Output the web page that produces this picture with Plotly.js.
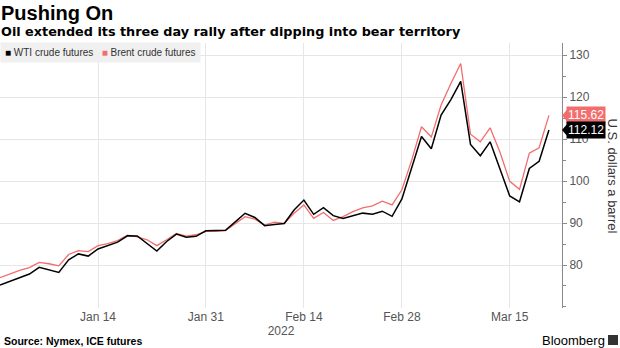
<!DOCTYPE html>
<html>
<head>
<meta charset="utf-8">
<script src="https://cdn.plot.ly/plotly-3.0.1.min.js"></script>
<style>html,body{margin:0;padding:0;background:#fff;}#chart{width:620px;height:348px;}</style>
</head>
<body>
<div id="chart"></div>
<script>
const dates = [
  '2021-12-31',
  '2022-01-03','2022-01-04','2022-01-05','2022-01-06','2022-01-07',
  '2022-01-10','2022-01-11','2022-01-12','2022-01-13','2022-01-14',
  '2022-01-17','2022-01-18','2022-01-19','2022-01-20','2022-01-21',
  '2022-01-24','2022-01-25','2022-01-26','2022-01-27','2022-01-28',
  '2022-01-31',
  '2022-02-01','2022-02-02','2022-02-03','2022-02-04',
  '2022-02-07','2022-02-08','2022-02-09','2022-02-10','2022-02-11',
  '2022-02-14','2022-02-15','2022-02-16','2022-02-17','2022-02-18',
  '2022-02-21','2022-02-22','2022-02-23','2022-02-24','2022-02-25',
  '2022-02-28',
  '2022-03-01','2022-03-02','2022-03-03','2022-03-04',
  '2022-03-07','2022-03-08','2022-03-09','2022-03-10','2022-03-11',
  '2022-03-14','2022-03-15','2022-03-16','2022-03-17','2022-03-18',
  '2022-03-21'
];
const wtiName = 'WTI crude futures';
const wti = [
  75.21,
  76.08, 76.99, 77.85, 79.46, 78.90,
  78.23, 81.22, 82.64, 82.12, 83.82,
  null, 85.43, 86.96, 86.90, 85.14,
  83.31, 85.60, 87.35, 86.61, 86.82,
  88.15,
  88.20, 88.26, 90.27, 92.31,
  91.32, 89.36, 89.66, 89.88, 93.10,
  95.46, 92.07, 93.66, 91.76, 91.07,
  null, 92.35, 92.10, 92.81, 91.59,
  95.72,
  103.41, 110.60, 107.67, 115.68,
  119.40, 123.70, 108.70, 106.02, 109.33,
  103.01, 96.44, 95.04, 102.98, 104.70,
  112.12
];
const brentName = 'Brent crude futures';
const brent = [
  77.0,
  77.9, 78.7, 79.4, 80.6, 80.3,
  79.8, 82.5, 83.4, 83.2, 84.6,
  85.1, 85.8, 87.1, 86.7, 86.0,
  84.6, 86.0, 87.5, 86.9, 87.2,
  88.0,
  88.0, 88.2, 89.9, 91.5,
  90.9, 89.5, 90.2, 89.9, 92.3,
  94.3, 91.1, 92.5, 90.6, 91.5,
  92.7, 93.6, 94.1, 95.2, 94.3,
  97.9,
  104.97, 112.93, 110.46, 118.11,
  123.21, 127.98, 111.14, 109.33, 112.67,
  106.90, 99.91, 98.02, 106.64, 107.93,
  115.62
];
const xTickVals = ['2022-01-14','2022-01-31','2022-02-14','2022-02-28','2022-03-15'];
const xTickText = ['Jan 14','Jan 31','Feb 14','Feb 28','Mar 15'];
const yTickVals = [80, 90, 100, 110, 120, 130];

const wtiColor = '#000000';
const brentColor = '#f26d6d';
const FONT = 'Liberation Sans, Arial, sans-serif';
const WIDE = 'DejaVu Sans, Verdana, sans-serif';

const traces = [
  {x: dates, y: brent, type: 'scatter', mode: 'lines', name: brentName,
   line: {color: brentColor, width: 1.3}, connectgaps: true, showlegend: false, hoverinfo: 'skip'},
  {x: dates, y: wti, type: 'scatter', mode: 'lines', name: wtiName,
   line: {color: wtiColor, width: 1.5}, connectgaps: true, showlegend: false, hoverinfo: 'skip'}
];

const lastBrent = brent[brent.length - 1];
const lastWti = wti[wti.length - 1];

function py(pix) { return (308 - pix) / 265; }

const annotations = [
  {text: '<b>Pushing On</b>', xref: 'paper', yref: 'paper', x: 0, y: py(13), xanchor: 'left', yanchor: 'middle',
   showarrow: false, font: {family: FONT, size: 20, color: '#000'}, xshift: -1},
  {text: '<b>Oil extended its three day rally after dipping into bear territory</b>', xref: 'paper', yref: 'paper',
   x: 0, y: py(31.5), xanchor: 'left', yanchor: 'middle', showarrow: false, font: {family: WIDE, size: 12.8, color: '#000'}, xshift: -1},
  {text: '<span style="color:' + wtiColor + '">■</span> ' + wtiName + '   <span style="color:' + brentColor + '">■</span> ' + brentName,
   xref: 'paper', yref: 'paper', x: 0, y: py(52.5), xanchor: 'left', yanchor: 'middle', showarrow: false,
   font: {family: FONT, size: 10, color: '#333'}, bgcolor: '#f0f0f0', borderpad: 4},
  {text: 'U.S. dollars a barrel', xref: 'paper', yref: 'paper', x: 1, y: 0.5, xanchor: 'center', yanchor: 'middle',
   xshift: 50, textangle: 90, showarrow: false, font: {family: FONT, size: 13, color: '#333'}},
  {text: lastBrent.toFixed(2), xref: 'paper', yref: 'y', x: 1, y: lastBrent, xanchor: 'left', yanchor: 'middle',
   xshift: 4, showarrow: false, bgcolor: brentColor, borderpad: 1, font: {family: FONT, size: 12, color: '#fff'}},
  {text: lastWti.toFixed(2), xref: 'paper', yref: 'y', x: 1, y: lastWti, xanchor: 'left', yanchor: 'middle',
   xshift: 4, showarrow: false, bgcolor: wtiColor, borderpad: 1, font: {family: FONT, size: 12, color: '#fff'}},
  {text: '<b>Source: Nymex, ICE futures</b>', xref: 'paper', yref: 'paper', x: 0, y: py(341), xanchor: 'left', yanchor: 'middle',
   xshift: 2, showarrow: false, font: {family: FONT, size: 10.5, color: '#000'}},
  {text: 'Bloomberg', xref: 'paper', yref: 'paper', x: 1, y: py(340), xanchor: 'right', yanchor: 'middle',
   xshift: 45, showarrow: false, font: {family: FONT, size: 13, color: '#000'}}
];

const shapes = [
  {type: 'path', xref: 'paper', yref: 'y', xsizemode: 'pixel', ysizemode: 'pixel', xanchor: 1, yanchor: lastBrent,
   path: 'M 0 0 L 6 7 L 6 -7 Z', fillcolor: brentColor, line: {width: 0}},
  {type: 'path', xref: 'paper', yref: 'y', xsizemode: 'pixel', ysizemode: 'pixel', xanchor: 1, yanchor: lastWti,
   path: 'M 0 0 L 6 7 L 6 -7 Z', fillcolor: wtiColor, line: {width: 0}},
  {type: 'rect', xref: 'paper', yref: 'paper', xsizemode: 'pixel', ysizemode: 'pixel', xanchor: 1, yanchor: py(340),
   x0: 46, x1: 56, y0: -5, y1: 5, fillcolor: '#333', line: {width: 0}}
];

const layout = {
  width: 620, height: 348,
  margin: {l: 0, r: 58, t: 43, b: 40},
  paper_bgcolor: '#fff', plot_bgcolor: '#fff',
  showlegend: false,
  font: {family: FONT, size: 12, color: '#555'},
  xaxis: {
    type: 'date',
    range: ['2021-12-31', '2022-03-22 08:00'],
    rangebreaks: [{bounds: ['sat', 'mon']}],
    tickvals: xTickVals, ticktext: xTickText,
    showgrid: true, gridcolor: '#e6e6e6', gridwidth: 1,
    showline: false, zeroline: false, ticks: '',
    tickfont: {family: FONT, size: 12, color: '#555'},
    title: {text: '2022', font: {family: FONT, size: 12, color: '#555'}, standoff: 2}
  },
  yaxis: {
    side: 'right',
    range: [69.76, 132.86],
    tickvals: yTickVals,
    showgrid: true, gridcolor: '#e6e6e6', gridwidth: 1,
    zeroline: false,
    showline: true, linecolor: '#888', linewidth: 1,
    ticks: 'outside', ticklen: 4, tickcolor: '#888',
    minor: {dtick: 5, tick0: 0, ticks: 'outside', ticklen: 3, tickcolor: '#888', showgrid: false},
    tickfont: {family: FONT, size: 12, color: '#555'}
  },
  annotations: annotations,
  shapes: shapes
};

Plotly.newPlot('chart', traces, layout, {displayModeBar: false, staticPlot: true});
</script>
</body>
</html>
